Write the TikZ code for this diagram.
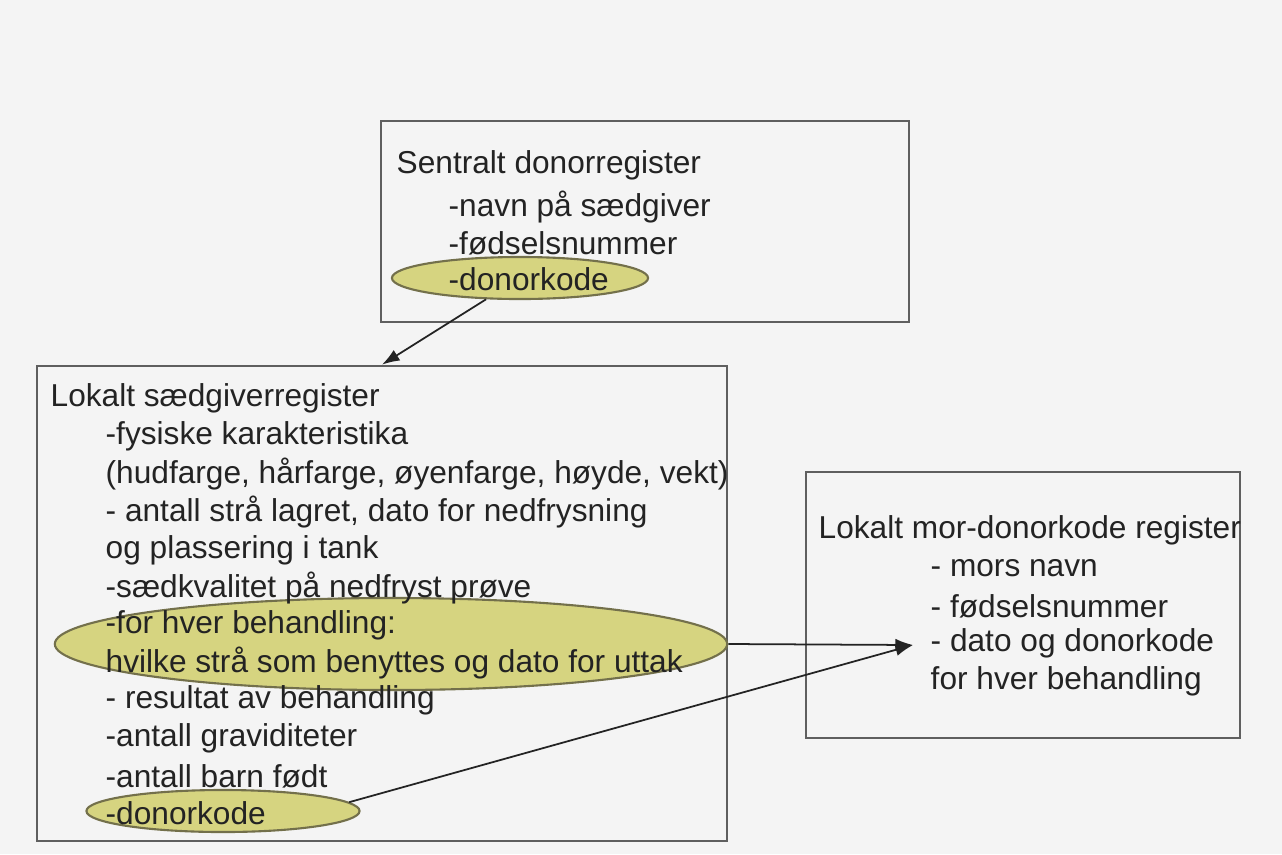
\documentclass[tikz,border=0pt]{standalone}
\usepackage{fontspec}
\setmainfont{Liberation Sans}
\usetikzlibrary{shapes.geometric,arrows.meta}
\definecolor{bgray}{RGB}{244,244,244}
\definecolor{boxline}{RGB}{95,95,95}
\definecolor{ovalfill}{RGB}{214,212,128}
\definecolor{ovalline}{RGB}{115,112,75}
\definecolor{txt}{RGB}{35,35,35}
\tikzset{
  regbox/.style={draw=boxline, line width=0.7pt, inner sep=0pt},
  oval/.style={ellipse, draw=ovalline, fill=ovalfill, line width=0.6pt, inner sep=0pt},
  entry/.style={anchor=west, inner sep=0pt, text=txt, font=\fontsize{9}{11}\selectfont},
  link/.style={draw=txt, line width=0.5pt, -{Latex[length=5pt,width=3.5pt]}}
}
\begin{document}
\begin{tikzpicture}[x=0.01cm, y=-0.01cm]

\useasboundingbox[fill=bgray] (0,0) rectangle (1282,854);

% the three registers
\node[regbox, minimum width=5.28cm, minimum height=2.01cm] (sentral) at (645,221.5) {};
\node[regbox, minimum width=6.90cm, minimum height=4.75cm] (lokal) at (382,603.5) {};
\node[regbox, minimum width=4.34cm, minimum height=2.66cm] (mor) at (1023,605) {};

% marked fields
\node[oval, minimum width=2.56cm, minimum height=0.42cm] (sentkode) at (520,278) {};
\node[oval, minimum width=6.72cm, minimum height=0.92cm] (behandling) at (391,644) {};
\node[oval, minimum width=2.73cm, minimum height=0.42cm] (lokalkode) at (223,811) {};

% Sentralt donorregister
\node[entry] (s0) at (396,165) {Sentralt donorregister};
\node[entry] (s1) at (448,207) {-navn på sædgiver};
\node[entry] (s2) at (448,243) {-fødselsnummer};
\node[entry] (s3) at (448,279) {-donorkode};

% Lokalt saedgiverregister
\node[entry] (l0) at (50,398) {Lokalt sædgiverregister};
\node[entry] (l1) at (105,436) {-fysiske karakteristika};
\node[entry] (l2) at (105,474) {(hudfarge, hårfarge, øyenfarge, høyde, vekt)};
\node[entry] (l3) at (105,512) {- antall strå lagret, dato for nedfrysning};
\node[entry] (l4) at (105,550) {og plassering i tank};
\node[entry] (l5) at (105,588) {-sædkvalitet på nedfryst prøve};
\node[entry] (l6) at (105,625) {-for hver behandling:};
\node[entry] (l7) at (105,663) {hvilke strå som benyttes og dato for uttak};
\node[entry] (l8) at (105,700) {- resultat av behandling};
\node[entry] (l9) at (105,738) {-antall graviditeter};
\node[entry] (l10) at (105,776) {-antall barn født};
\node[entry] (l11) at (105,813) {-donorkode};

% Lokalt mor-donorkode register
\node[entry] (m0) at (818,530) {Lokalt mor-donorkode register};
\node[entry] (m1) at (930,568) {- mors navn};
\node[entry] (m2) at (930,606) {- fødselsnummer};
\node[entry] (m3) at (930,643) {- dato og donorkode};
\node[entry] (m4) at (930,681) {for hver behandling};

% links
\coordinate (mottak) at (913,645);
\draw[link] (sentkode) -- (lokal.north);
\draw[link] (behandling.east) -- (mottak);
\draw[link] (lokalkode.4) -- (mottak);

\end{tikzpicture}
\end{document}
